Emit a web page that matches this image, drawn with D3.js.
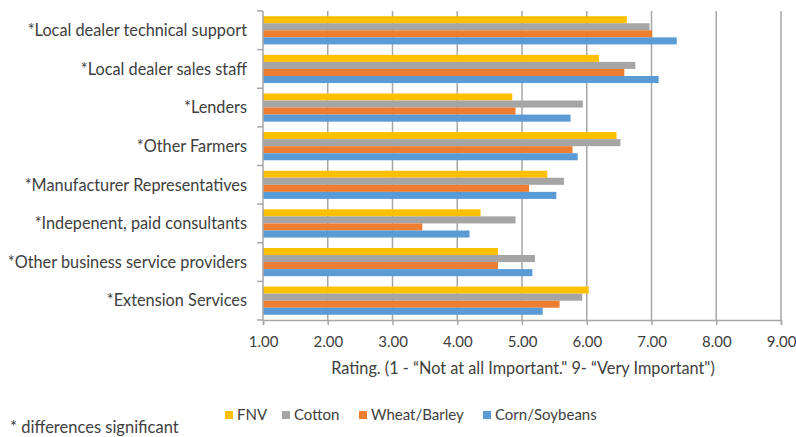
<!DOCTYPE html>
<html lang="en">
<head>
<meta charset="utf-8">
<title>Rating of information sources</title>
<script src="https://cdn.jsdelivr.net/npm/d3@7"></script>
<style>
  body { margin: 0; background: #fff; }
  svg { display: block; font-family: Lato, "Open Sans", sans-serif; }
</style>
</head>
<body>
<svg id="chart" width="796" height="437"></svg>
<script>

// categories, top to bottom
const categories = [
  "*Local dealer technical support",
  "*Local dealer sales staff",
  "*Lenders",
  "*Other Farmers",
  "*Manufacturer Representatives",
  "*Indepenent, paid consultants",
  "*Other business service providers",
  "*Extension Services"
];

const seriesNames = ["FNV", "Cotton", "Wheat/Barley", "Corn/Soybeans"];
const seriesColors = ["#FFC000", "#A5A5A5", "#ED7D31", "#5B9BD5"];

// values per series, same order as categories
const fnv    = [6.62, 6.19, 4.85, 6.46, 5.39, 4.36, 4.63, 6.03];
const cotton = [6.97, 6.75, 5.94, 6.52, 5.65, 4.90, 5.20, 5.93];
const wheat  = [7.01, 6.58, 4.90, 5.78, 5.11, 3.46, 4.63, 5.58];
const corn   = [7.39, 7.11, 5.75, 5.86, 5.53, 4.19, 5.16, 5.32];

const tickValues = [1, 2, 3, 4, 5, 6, 7, 8, 9];
const axisTitle = "Rating. (1 - \u201CNot at all Important.\" 9- \u201CVery Important\")";
const footnote = "* differences significant";

const seriesValues = [fnv, cotton, wheat, corn];

const svg = d3.select("#chart");
const textCol = "#404040";

const x = d3.scaleLinear().domain([1, 9]).range([263, 781]);
const y = d3.scaleBand().domain(categories).range([11, 320])
  .paddingInner(0.27).paddingOuter(0.135);
const ySub = d3.scaleBand().domain(seriesNames).range([0, y.bandwidth()]);

// vertical gridlines
svg.append("g")
  .selectAll("line")
  .data(tickValues.slice(1))
  .join("line")
  .attr("x1", d => x(d)).attr("x2", d => x(d))
  .attr("y1", 11).attr("y2", 320)
  .attr("stroke", "#A6A6A6")
  .attr("stroke-width", 1.5);

// bars
const groups = svg.append("g")
  .selectAll("g")
  .data(categories)
  .join("g")
  .attr("transform", d => "translate(0," + y(d) + ")");

groups.selectAll("rect")
  .data((d, i) => seriesNames.map((s, j) => ({ s: s, v: seriesValues[j][i], c: seriesColors[j] })))
  .join("rect")
  .attr("x", x(1))
  .attr("y", d => ySub(d.s))
  .attr("width", d => x(d.v) - x(1))
  .attr("height", ySub.bandwidth())
  .attr("fill", d => d.c);

// bottom axis
const xAxis = svg.append("g")
  .attr("transform", "translate(0,320)")
  .call(d3.axisBottom(x).tickValues(tickValues).tickFormat(d3.format(".2f")).tickSize(5).tickPadding(11));
xAxis.select(".domain").attr("stroke", "#A6A6A6").attr("stroke-width", 1.5);
xAxis.selectAll(".tick line").attr("stroke", "#A6A6A6").attr("stroke-width", 1.5);
xAxis.selectAll(".tick text")
  .attr("font-family", "Lato, 'Open Sans', sans-serif")
  .attr("font-size", 15)
  .attr("fill", textCol);

// left axis: category separators
svg.append("line")
  .attr("x1", x(1)).attr("x2", x(1)).attr("y1", 11).attr("y2", 320)
  .attr("stroke", "#A6A6A6").attr("stroke-width", 1.5);
const seps = categories.map(c => y(c) - y.step() * y.paddingInner() / 2).concat([320]);
seps[0] = 11;
svg.append("g")
  .selectAll("line")
  .data(seps)
  .join("line")
  .attr("x1", x(1) - 6).attr("x2", x(1))
  .attr("y1", d => d).attr("y2", d => d)
  .attr("stroke", "#A6A6A6").attr("stroke-width", 1.5);

// category labels
svg.append("g")
  .selectAll("text")
  .data(categories)
  .join("text")
  .attr("x", 247)
  .attr("y", d => y(d) + y.bandwidth() / 2)
  .attr("dy", "0.35em")
  .attr("text-anchor", "end")
  .attr("font-size", 16.3)
  .attr("fill", textCol)
  .text(d => d);

// axis title
svg.append("text")
  .attr("x", 523).attr("y", 368).attr("dy", "0.35em")
  .attr("text-anchor", "middle")
  .attr("font-size", 16.3)
  .attr("fill", textCol)
  .text(axisTitle);

// legend
const legendX = [225, 282, 359, 483];
const legend = svg.append("g")
  .selectAll("g")
  .data(seriesNames)
  .join("g")
  .attr("transform", (d, i) => "translate(" + legendX[i] + ",415)");
legend.append("rect")
  .attr("x", 0).attr("y", -4).attr("width", 8).attr("height", 8)
  .attr("fill", (d, i) => seriesColors[i]);
legend.append("text")
  .attr("x", 12).attr("y", 0).attr("dy", "0.35em")
  .attr("font-size", 15)
  .attr("fill", textCol)
  .text(d => d);

// footnote
svg.append("text")
  .attr("x", 10).attr("y", 432.5)
  .attr("font-size", 16.5)
  .attr("fill", textCol)
  .text(footnote);

</script>
</body>
</html>
